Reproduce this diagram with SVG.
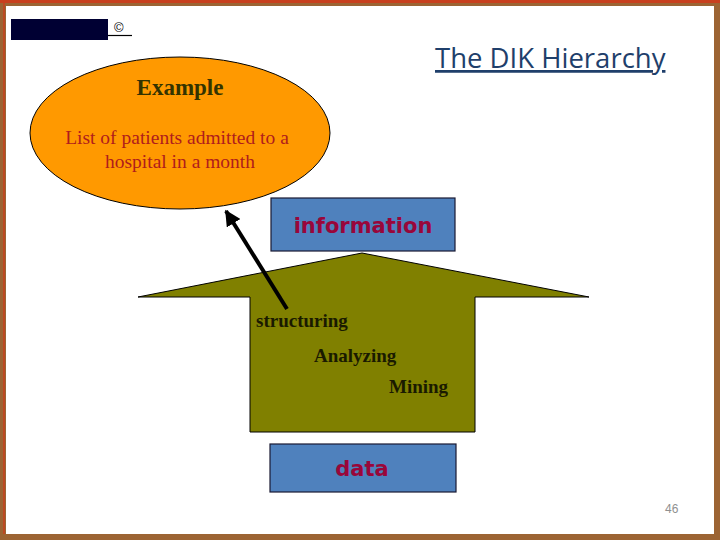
<svg xmlns="http://www.w3.org/2000/svg" width="720" height="540" viewBox="0 0 720 540">
<style>
.box{fill:#4f81bd;stroke:#1a1a33;stroke-width:1.2}
.boxt{font-family:"DejaVu Sans",Verdana,sans-serif;font-weight:bold;fill:#99063a;text-anchor:middle}
.serif{font-family:"Liberation Serif","Times New Roman",serif}
.step{font-family:"Liberation Serif","Times New Roman",serif;font-size:19px;font-weight:bold;fill:#1a1a00}
</style>
<defs>
<marker id="ah" viewBox="0 0 10 10" refX="9" refY="5" markerWidth="4" markerHeight="4" orient="auto" markerUnits="strokeWidth">
<path d="M0,0 L10,5 L0,10 z" fill="#000"/>
</marker>
</defs>
<rect width="720" height="540" fill="#ffffff"/>
<g id="frame">
<rect x="3" y="3" width="714" height="534" fill="none" stroke="#9c6433" stroke-width="6"/>
<line x1="0" y1="1.5" x2="720" y2="1.5" stroke="#c8401e" stroke-width="3"/>
<line x1="4" y1="0" x2="4" y2="534" stroke="#c8401e" stroke-width="1.5"/>
</g>
<g id="logo">
<rect x="11" y="19" width="97" height="21" fill="#000033"/>
<line x1="108" y1="35.5" x2="132" y2="35.5" stroke="#000" stroke-width="1.2"/>
<text x="114" y="32" font-family="Liberation Sans,Arial,sans-serif" font-size="13" fill="#000">©</text>
</g>
<g id="title">
<text x="435" y="68" font-family="'Open Sans','DejaVu Sans',sans-serif" font-size="27.5" fill="#1f3f6b" text-decoration="underline">The DIK Hierarchy</text>
</g>
<g id="example">
<ellipse cx="180" cy="133" rx="150" ry="76" fill="#ff9900" stroke="#000" stroke-width="1"/>
<text x="180" y="95" class="serif" font-size="23" font-weight="bold" fill="#333300" text-anchor="middle">Example</text>
<text x="177" y="144" class="serif" font-size="19.5" fill="#b01c1c" text-anchor="middle">List of patients admitted to a</text>
<text x="180" y="168" class="serif" font-size="19.5" fill="#b01c1c" text-anchor="middle">hospital in a month</text>
</g>
<g id="arrow-body">
<polygon points="362,253 589,297 475,297 475,432 250,432 250,297 138,297" fill="#808000" stroke="#000" stroke-width="1"/>
<text x="256" y="327" class="step">structuring</text>
<text x="314" y="362" class="step">Analyzing</text>
<text x="389" y="393" class="step">Mining</text>
</g>
<g id="information">
<rect class="box" x="271" y="198" width="184" height="53"/>
<text class="boxt" x="363" y="233" font-size="21">information</text>
</g>
<g id="data">
<rect class="box" x="270" y="444" width="186" height="48"/>
<text class="boxt" x="362" y="476" font-size="21">data</text>
</g>
<g id="connectors">
<line x1="287" y1="309" x2="226" y2="211" stroke="#000" stroke-width="4" marker-end="url(#ah)"/>
</g>
<g id="page">
<text x="665" y="513" font-family="Liberation Sans,Arial,sans-serif" font-size="12" fill="#909090">46</text>
</g>
</svg>
